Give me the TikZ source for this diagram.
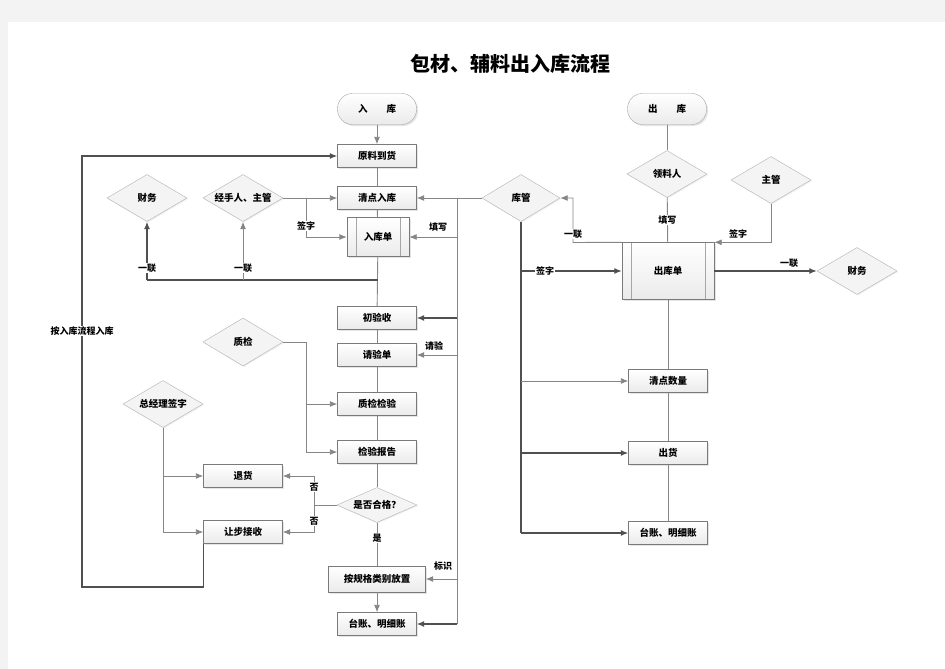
\documentclass[tikz,border=0pt]{standalone}
\usepackage{fontspec}
\setmainfont{Noto Sans CJK SC}
\usepackage{xcolor}
\usepackage{tikz}
\usetikzlibrary{shapes, arrows.meta, positioning, calc, shadows}
\definecolor{pagegray}{HTML}{F3F3F3}
\definecolor{linegray}{HTML}{868686}
\definecolor{darkline}{HTML}{505050}
\definecolor{boxline}{HTML}{7A7A7A}

\tikzset{
  box/.style={draw=boxline, top color=white, bottom color=gray!16, minimum width=79pt, minimum height=23pt, inner sep=1pt, font=\fontsize{9.5}{10}\selectfont\bfseries, drop shadow={shadow xshift=1.5pt, shadow yshift=-1.5pt, fill=gray!40}},
  procbox/.style={box, path picture={
      \draw[gray!70] ([xshift=9pt]path picture bounding box.north west) -- ([xshift=9pt]path picture bounding box.south west);
      \draw[gray!70] ([xshift=-9pt]path picture bounding box.north east) -- ([xshift=-9pt]path picture bounding box.south east);}},
  terminal/.style={box, draw=gray!70, rounded corners=15pt, minimum height=31pt},
  decision/.style={diamond, draw=gray!60, fill=gray!9, aspect=1.7, minimum width=80pt, minimum height=47pt, inner sep=0pt, font=\fontsize{9.5}{10}\selectfont\bfseries, drop shadow={shadow xshift=1pt, shadow yshift=-1pt, fill=gray!25}},
  lbl/.style={fill=white, inner sep=1pt, font=\fontsize{9}{10}\selectfont\bfseries},
  line/.style={draw=linegray, line width=0.9pt},
  thickline/.style={draw=darkline, line width=1.3pt}
}

\begin{document}
\begin{tikzpicture}[x=1pt, y=-1pt, >={Latex[length=7.5pt,width=6pt]}]
  \fill[pagegray] (0,0) rectangle (945,669);
  \fill[white] (8,22) rectangle (945,669);
  \useasboundingbox (0,0) rectangle (945,669);

  \node (title) at (510,64) {\fontsize{20}{22}\selectfont\bfseries 包材、辅料出入库流程};

  % inbound
  \node[terminal] (ruku) at (377,109) {入\hspace{2em}库};
  \node[box] (yuanliao) at (377,156) {原料到货};
  \node[box] (qingdian) at (377,198) {清点入库};
  \node[procbox, minimum width=62pt, minimum height=39pt] (rukudan) at (378,237) {入库单};
  \node[decision] (caiwuL) at (147,198) {财务};
  \node[decision] (jingshou) at (243,198) {经手人、主管};
  \node[box] (chuyan) at (377,318) {初验收};
  \node[box] (qingyan) at (377,355) {请验单};
  \node[decision, minimum height=48pt] (zhijian) at (243,342) {质检};
  \node[box] (jianyan) at (377,404) {质检检验};
  \node[box] (baogao) at (377,452) {检验报告};
  \node[decision] (zongjingli) at (163,404) {总经理签字};
  \node[box] (tuihuo) at (243,476) {退货};
  \node[box] (rangbu) at (243,532) {让步接收};
  \node[decision, minimum height=35pt, aspect=2.3] (hege) at (377,505) {是否合格？};
  \node[box, minimum width=97pt, minimum height=26pt] (fangzhi) at (377,579) {按规格类别放置};
  \node[box] (taizhangL) at (377,624) {台账、明细账};

  % outbound
  \node[terminal] (chuku) at (667,109) {出\hspace{2em}库};
  \node[decision] (lingliao) at (667,174) {领料人};
  \node[decision] (zhuguan) at (771,180) {主管};
  \node[decision, minimum width=78pt] (kuguan) at (521,198) {库管};
  \node[procbox, minimum width=92pt, minimum height=57pt] (chukudan) at (668,271) {出库单};
  \node[decision] (caiwuR) at (857,271) {财务};
  \node[box] (qingdianshu) at (668,381) {清点数量};
  \node[box] (chuhuo) at (668,453) {出货};
  \node[box] (taizhangR) at (668,533) {台账、明细账};

  % main column
  \draw[line, ->] (ruku) -- (yuanliao);
  \draw[line] (yuanliao) -- (qingdian);
  \draw[line] (qingdian) -- (rukudan);
  \draw[line] (rukudan) -- (chuyan);
  \draw[line] (chuyan) -- (qingyan);
  \draw[line] (qingyan) -- (jianyan);
  \draw[line] (jianyan) -- (baogao);
  \draw[line] (baogao) -- (hege);
  \draw[line] (hege) -- (fangzhi) node[lbl, pos=0.35] (shi) {是};
  \draw[line, ->] (fangzhi) -- (taizhangL);

  % signer
  \coordinate (qz) at (306,198);
  \draw[line, ->] (jingshou.east) -- (qingdian.west);
  \draw[line, ->] (qz) -- (qz |- rukudan) -- (rukudan.west);
  \node[lbl] (qianzi1) at (306,226) {签字};

  % copies
  \coordinate (lj) at (378,280);
  \draw[thickline] (lj) -- (lj -| caiwuL);
  \draw[thickline, ->] (lj -| caiwuL) -- (caiwuL.south);
  \draw[line, ->] (lj -| jingshou) -- (jingshou.south);
  \node[lbl] (yilian1) at (147,268) {一联};
  \node[lbl] (yilian2) at (243,268) {一联};

  % storekeeper bus
  \coordinate (rbus) at (457,198);
  \draw[line] (kuguan.west) -- (rbus) -- (rbus |- taizhangL);
  \draw[line, ->] (rbus) -- (qingdian.east);
  \draw[line, ->] (rbus |- rukudan) -- (rukudan.east);
  \draw[thickline, ->] (rbus |- chuyan) -- (chuyan.east);
  \draw[line, ->] (rbus |- qingyan) -- (qingyan.east);
  \draw[line, ->] (rbus |- fangzhi) -- (fangzhi.east);
  \draw[thickline, ->] (rbus |- taizhangL) -- (taizhangL.east);
  \node[lbl] (tianxie) at (438,227) {填写};
  \node[lbl] (qingyanlbl) at (434,346) {请验};
  \node[lbl] (biaoshi) at (443,566) {标识};

  % quality check
  \coordinate (zj) at (306,342);
  \draw[line] (zhijian.east) -- (zj) -- (zj |- baogao);
  \draw[line, ->] (zj |- jianyan) -- (jianyan.west);
  \draw[line, ->] (zj |- baogao) -- (baogao.west);

  % not passed
  \draw[line] (zongjingli.south) -- (zongjingli.south |- rangbu);
  \draw[line, ->] (zongjingli.south |- tuihuo) -- (tuihuo.west);
  \draw[line, ->] (zongjingli.south |- rangbu) -- (rangbu.west);
  \coordinate (fou) at (314,505);
  \draw[line] (hege.west) -- (fou);
  \draw[line, ->] (fou) -- (fou |- tuihuo) -- (tuihuo.east);
  \draw[line, ->] (fou) -- (fou |- rangbu) -- (rangbu.east);
  \node[lbl] (fou1) at (314,487) {否};
  \node[lbl] (fou2) at (314,521) {否};

  % back to inbound
  \coordinate (lpB) at (82,587);
  \draw[thickline, ->] (rangbu.south west) -- (rangbu.south west |- lpB) -- (lpB) -- (lpB |- yuanliao) -- (yuanliao.west);
  \node[lbl] (anliucheng) at (82,331) {按入库流程入库};

  % outbound column
  \draw[line] (chuku) -- (lingliao);
  \draw[line] (lingliao) -- (chukudan) node[lbl, midway] (tianxie2) {填写};
  \draw[line, ->] (zhuguan.south) |- (chukudan.north east);
  \node[lbl] (qianzi2) at (738,234) {签字};
  \coordinate (yl) at (573,242.5);
  \draw[line, ->] (chukudan.north west) -- (yl) |- (kuguan.east);
  \node[lbl] (yilian3) at (573,234) {一联};
  \draw[thickline] (kuguan.south) -- (kuguan.south |- taizhangR);
  \draw[thickline, ->] (kuguan.south |- chukudan) -- (chukudan.west);
  \node[lbl] (qianzi3) at (545,271) {签字};
  \draw[line, ->] (kuguan.south |- qingdianshu) -- (qingdianshu.west);
  \draw[thickline, ->] (kuguan.south |- chuhuo) -- (chuhuo.west);
  \draw[thickline, ->] (kuguan.south |- taizhangR) -- (taizhangR.west);
  \draw[thickline, ->] (chukudan.east) -- (caiwuR.west);
  \node[lbl] (yilian4) at (789,263) {一联};
  \draw[line] (chukudan) -- (qingdianshu);
  \draw[line] (qingdianshu) -- (chuhuo);
  \draw[line] (chuhuo) -- (taizhangR);
\end{tikzpicture}
\end{document}
